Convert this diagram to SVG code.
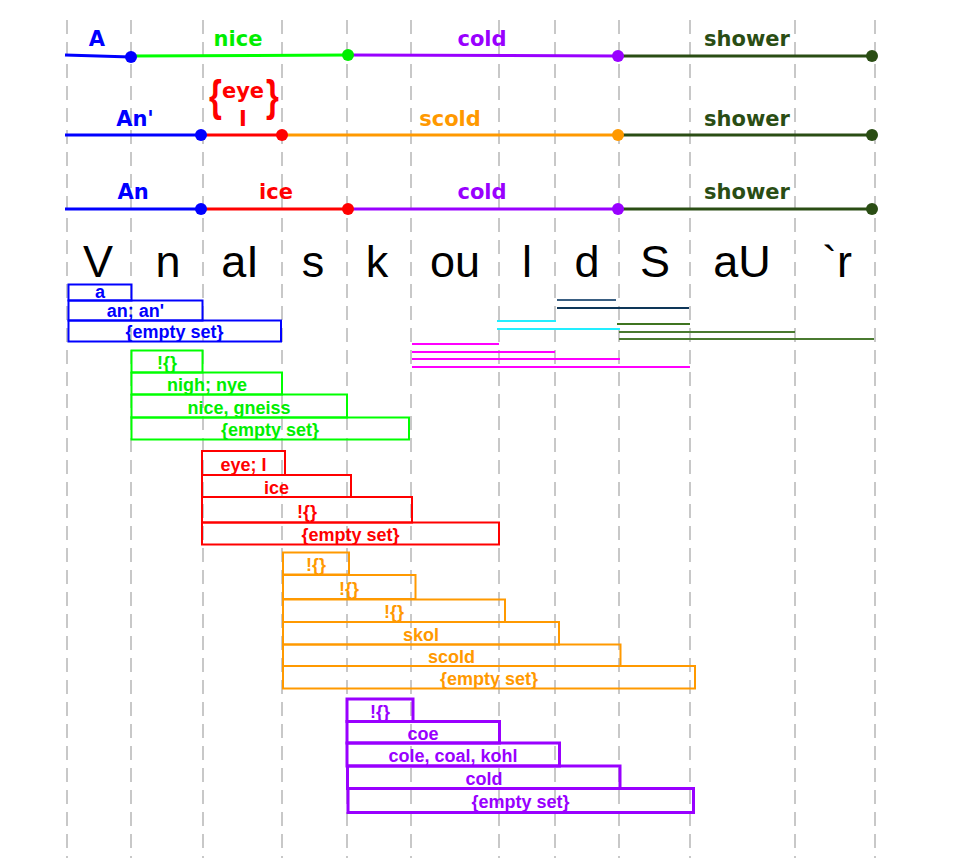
<svg xmlns="http://www.w3.org/2000/svg" width="966" height="863" viewBox="0 0 966 863">
<style>
.grid line{stroke:#c8c8c8;stroke-width:2;stroke-dasharray:14 8}
.lbl{font-family:"DejaVu Sans",sans-serif;font-weight:bold;font-size:21px;text-anchor:middle}
.ph{font-family:"Liberation Sans",Arial,sans-serif;font-size:45px;text-anchor:middle;fill:#000}
.bx{font-family:"Liberation Sans",Arial,sans-serif;font-weight:bold;font-size:18px;text-anchor:middle}
.br{font-family:"Liberation Sans",Arial,sans-serif;font-weight:bold;font-size:44px;text-anchor:middle}
.tl{stroke-width:3;fill:none}
rect{fill:none}
.b rect{stroke:#0000ff;stroke-width:2}.b text{fill:#0000ff}
.g rect{stroke:#00ff00;stroke-width:2}.g text{fill:#00ee00}
.r rect{stroke:#ff0000;stroke-width:2}.r text{fill:#ff0000}
.o rect{stroke:#ff9900;stroke-width:2}.o text{fill:#ff9900}
.p rect{stroke:#9900ff;stroke-width:3}.p text{fill:#9900ff}
.seg line{stroke-width:2}
</style>
<rect x="0" y="0" width="966" height="863" fill="#fff"/>
<g class="grid">
<line x1="67" y1="20" x2="67" y2="858"/>
<line x1="131" y1="20" x2="131" y2="858"/>
<line x1="203" y1="20" x2="203" y2="858"/>
<line x1="282" y1="20" x2="282" y2="858"/>
<line x1="347" y1="20" x2="347" y2="858"/>
<line x1="411" y1="20" x2="411" y2="858"/>
<line x1="499" y1="20" x2="499" y2="858"/>
<line x1="555" y1="20" x2="555" y2="858"/>
<line x1="619" y1="20" x2="619" y2="858"/>
<line x1="690" y1="20" x2="690" y2="858"/>
<line x1="795" y1="20" x2="795" y2="858"/>
<line x1="875" y1="20" x2="875" y2="858"/>
</g>
<g id="connectors">
<line class="tl" x1="65" y1="55" x2="131" y2="57" stroke="#0000ff"/>
<line class="tl" x1="131" y1="56" x2="348" y2="55" stroke="#00ff00"/>
<line class="tl" x1="348" y1="55" x2="618" y2="56" stroke="#9900ff"/>
<line class="tl" x1="618" y1="56" x2="872" y2="56" stroke="#2a4d14"/>
<line class="tl" x1="65" y1="135" x2="201" y2="135" stroke="#0000ff"/>
<line class="tl" x1="201" y1="135" x2="282" y2="135" stroke="#ff0000"/>
<line class="tl" x1="282" y1="135" x2="618" y2="135" stroke="#ff9900"/>
<line class="tl" x1="618" y1="135" x2="872" y2="135" stroke="#2a4d14"/>
<line class="tl" x1="65" y1="209" x2="201" y2="209" stroke="#0000ff"/>
<line class="tl" x1="201" y1="209" x2="348" y2="209" stroke="#ff0000"/>
<line class="tl" x1="348" y1="209" x2="618" y2="209" stroke="#9900ff"/>
<line class="tl" x1="618" y1="209" x2="872" y2="209" stroke="#2a4d14"/>
</g>
<g id="dots">
<circle cx="131" cy="57" r="6" fill="#0000ff"/>
<circle cx="348" cy="55" r="6" fill="#00ee00"/>
<circle cx="618" cy="56" r="6" fill="#9900ff"/>
<circle cx="872" cy="56" r="6" fill="#2a4d14"/>
<circle cx="201" cy="135" r="6" fill="#0000ff"/>
<circle cx="282" cy="135" r="6" fill="#ff0000"/>
<circle cx="618" cy="135" r="6" fill="#ff9900"/>
<circle cx="872" cy="135" r="6" fill="#2a4d14"/>
<circle cx="201" cy="209" r="6" fill="#0000ff"/>
<circle cx="348" cy="209" r="6" fill="#ff0000"/>
<circle cx="618" cy="209" r="6" fill="#9900ff"/>
<circle cx="872" cy="209" r="6" fill="#2a4d14"/>
</g>
<g id="labels">
<text class="lbl" x="97" y="46" fill="#0000ff">A</text>
<text class="lbl" x="238" y="46" fill="#00ee00">nice</text>
<text class="lbl" x="482" y="46" fill="#9900ff">cold</text>
<text class="lbl" x="747" y="46" fill="#2a4d14">shower</text>
<text class="lbl" x="135" y="126" fill="#0000ff">An'</text>
<text class="lbl" x="450" y="126" fill="#ff9900">scold</text>
<text class="lbl" x="747" y="126" fill="#2a4d14">shower</text>
<text class="lbl" x="133" y="199" fill="#0000ff">An</text>
<text class="lbl" x="276" y="199" fill="#ff0000">ice</text>
<text class="lbl" x="482" y="199" fill="#9900ff">cold</text>
<text class="lbl" x="747" y="199" fill="#2a4d14">shower</text>
</g>
<g id="eyeI" fill="#ff0000">
<text class="br" transform="translate(215.5,111) scale(0.75,1)">{</text>
<text class="br" transform="translate(272.5,111) scale(0.75,1)">}</text>
<text class="lbl" x="243" y="98">eye</text>
<text class="lbl" x="243" y="126">I</text>
</g>
<g id="phonemes">
<text class="ph" x="98" y="277">V</text>
<text class="ph" x="168" y="277">n</text>
<text class="ph" x="240" y="277">aI</text>
<text class="ph" x="313" y="277">s</text>
<text class="ph" x="377" y="277">k</text>
<text class="ph" x="455" y="277">ou</text>
<text class="ph" x="527" y="277">l</text>
<text class="ph" x="587" y="277">d</text>
<text class="ph" x="655" y="277">S</text>
<text class="ph" x="742" y="277">aU</text>
<text class="ph" x="837" y="277">`r</text>
</g>
<g id="segments" class="seg">
<line x1="557" y1="300" x2="616" y2="300" stroke="#3a5f82"/>
<line x1="557" y1="308" x2="689" y2="308" stroke="#0e3658"/>
<line x1="497" y1="321" x2="556" y2="321" stroke="#22eeff"/>
<line x1="497" y1="329" x2="620" y2="329" stroke="#22eeff"/>
<line x1="617" y1="324" x2="690" y2="324" stroke="#3f7420"/>
<line x1="619" y1="332" x2="795" y2="332" stroke="#4a7a30"/>
<line x1="619" y1="339" x2="874" y2="339" stroke="#4a7a30"/>
<line x1="412" y1="344" x2="499" y2="344" stroke="#ff00ff"/>
<line x1="412" y1="352" x2="555" y2="352" stroke="#ff00ff"/>
<line x1="412" y1="359" x2="620" y2="359" stroke="#ff00ff"/>
<line x1="412" y1="367" x2="690" y2="367" stroke="#ff00ff"/>
</g>
<g id="blue" class="b bx">
<rect x="68.5" y="284.5" width="63" height="16"/><text x="100" y="298">a</text>
<rect x="68.5" y="300.5" width="134" height="20"/><text x="135.5" y="317">an; an'</text>
<rect x="68.5" y="320.5" width="212.5" height="21"/><text x="174.5" y="338">{empty set}</text>
</g>
<g id="green" class="g bx">
<rect x="131.5" y="350.5" width="71" height="22"/><text x="167" y="369">!{}</text>
<rect x="131.5" y="372.5" width="150.5" height="22"/><text x="207" y="391">nigh; nye</text>
<rect x="131.5" y="394.5" width="215.5" height="23"/><text x="239" y="414">nice, gneiss</text>
<rect x="131.5" y="417.5" width="277.5" height="22"/><text x="270" y="436">{empty set}</text>
</g>
<g id="red" class="r bx">
<rect x="202" y="451" width="83" height="24"/><text x="243.5" y="471">eye; I</text>
<rect x="202" y="475" width="149" height="22"/><text x="276.5" y="494">ice</text>
<rect x="202" y="497" width="210" height="25.5"/><text x="307" y="518">!{}</text>
<rect x="202" y="522.5" width="297" height="22"/><text x="350.5" y="541">{empty set}</text>
</g>
<g id="orange" class="o bx">
<rect x="283" y="552.5" width="66" height="22"/><text x="316" y="571">!{}</text>
<rect x="283" y="575" width="132.5" height="24"/><text x="349" y="595">!{}</text>
<rect x="283" y="599.5" width="222" height="22.5"/><text x="394" y="618">!{}</text>
<rect x="283" y="622" width="276" height="22.5"/><text x="421" y="641">skol</text>
<rect x="283" y="644.5" width="337.5" height="21.5"/><text x="451.5" y="663">scold</text>
<rect x="283" y="666" width="412" height="22.5"/><text x="489" y="685">{empty set}</text>
</g>
<g id="purple" class="p bx">
<rect x="347" y="699" width="66" height="22.5"/><text x="380" y="718">!{}</text>
<rect x="347" y="721.5" width="152.5" height="21.5"/><text x="423" y="740">coe</text>
<rect x="347" y="743" width="212.5" height="23"/><text x="453" y="762">cole, coal, kohl</text>
<rect x="347.5" y="766" width="272.5" height="22.5"/><text x="484" y="785">cold</text>
<rect x="348" y="788.5" width="345.5" height="24"/><text x="520.5" y="808">{empty set}</text>
</g>
</svg>
